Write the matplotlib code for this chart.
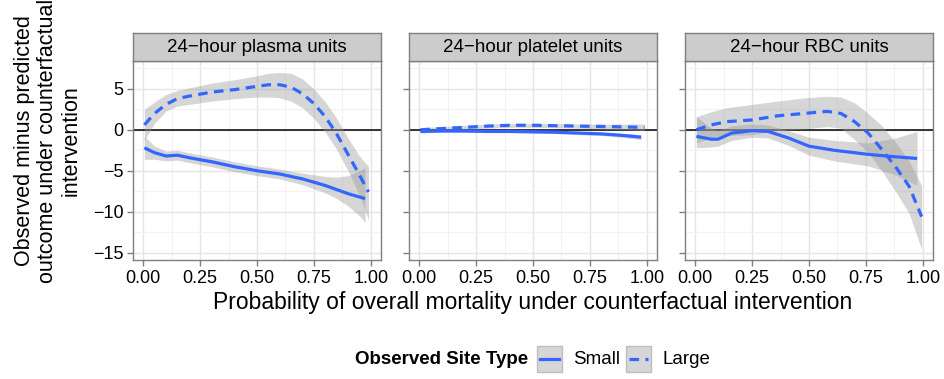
import numpy as np
import matplotlib
matplotlib.use('Agg')
import matplotlib.pyplot as plt
from matplotlib.patches import Rectangle
from matplotlib.lines import Line2D

plt.rcParams['font.family'] = ['Liberation Sans', 'DejaVu Sans']

panel_titles = ['24\u2212hour plasma units', '24\u2212hour platelet units',
                '24\u2212hour RBC units']
site_types = ['Small', 'Large']

# smoothed fits per panel: x, fit, lower and upper band
plasma_large_x = [0.005, 0.05, 0.1, 0.15, 0.2, 0.3, 0.4, 0.5, 0.55, 0.6,
                  0.65, 0.7, 0.75, 0.8, 0.85, 0.9, 0.95, 0.99]
plasma_large_y = [0.6, 2.0, 3.1, 3.8, 4.1, 4.6, 4.9, 5.3, 5.5, 5.5,
                  5.2, 4.4, 3.2, 1.6, -0.5, -3.0, -5.5, -7.6]
plasma_large_lo = [-1.3, 0.8, 2.3, 2.9, 3.1, 3.5, 3.8, 4.0, 4.0, 3.9,
                   3.5, 2.7, 1.4, -0.3, -2.4, -5.0, -8.0, -11.0]
plasma_large_hi = [2.5, 3.4, 4.3, 4.8, 5.1, 5.7, 6.1, 6.6, 6.9, 7.0,
                   6.9, 6.2, 5.0, 3.4, 1.4, -1.0, -3.2, -4.5]

plasma_small_x = [0.005, 0.05, 0.1, 0.15, 0.2, 0.3, 0.4, 0.5, 0.6, 0.7,
                  0.8, 0.85, 0.9, 0.95, 0.975]
plasma_small_y = [-2.2, -2.8, -3.2, -3.1, -3.4, -3.9, -4.5, -5.0, -5.4, -6.0,
                  -6.8, -7.3, -7.8, -8.2, -8.4]
plasma_small_lo = [-3.6, -3.6, -3.8, -3.7, -4.0, -4.5, -5.1, -5.6, -6.0, -6.7,
                   -7.7, -8.4, -9.3, -10.5, -11.3]
plasma_small_hi = [-0.8, -2.0, -2.6, -2.5, -2.8, -3.3, -3.9, -4.4, -4.8, -5.3,
                   -5.7, -5.8, -5.6, -5.0, -4.6]

platelet_large_x = [0.005, 0.1, 0.2, 0.3, 0.4, 0.5, 0.6, 0.7, 0.8, 0.9, 0.99]
platelet_large_y = [0.0, 0.15, 0.3, 0.45, 0.55, 0.55, 0.5, 0.45, 0.4, 0.35, 0.3]
platelet_large_lo = [-0.25, -0.1, 0.05, 0.2, 0.3, 0.3, 0.25, 0.2, 0.1, 0.0, -0.1]
platelet_large_hi = [0.25, 0.4, 0.55, 0.7, 0.8, 0.8, 0.75, 0.7, 0.7, 0.7, 0.7]

platelet_small_x = [0.005, 0.1, 0.2, 0.3, 0.4, 0.5, 0.6, 0.7, 0.8, 0.9, 0.975]
platelet_small_y = [-0.2, -0.15, -0.15, -0.2, -0.2, -0.25, -0.3, -0.4, -0.5,
                    -0.7, -0.9]
platelet_small_lo = [-0.4, -0.3, -0.3, -0.35, -0.35, -0.4, -0.45, -0.6, -0.7,
                     -0.95, -1.2]
platelet_small_hi = [0.0, 0.0, 0.0, -0.05, -0.05, -0.1, -0.15, -0.2, -0.3,
                     -0.45, -0.6]

rbc_large_x = [0.005, 0.07, 0.14, 0.25, 0.36, 0.48, 0.58, 0.64, 0.7, 0.76,
               0.82, 0.88, 0.94, 0.995]
rbc_large_y = [0.0, 0.6, 1.0, 1.2, 1.7, 2.0, 2.25, 2.0, 1.0, -0.4,
               -2.4, -4.5, -6.9, -10.6]
rbc_large_lo = [-1.6, -1.0, -0.7, -0.6, -0.1, 0.1, 0.4, 0.2, -1.2, -2.8,
                -5.0, -7.5, -10.2, -14.6]
rbc_large_hi = [1.6, 2.2, 2.7, 3.1, 3.5, 3.9, 4.1, 4.0, 3.3, 2.0,
                0.5, -1.5, -3.8, -6.8]

rbc_small_x = [0.005, 0.07, 0.1, 0.16, 0.25, 0.32, 0.41, 0.5, 0.61, 0.76,
               0.88, 0.975]
rbc_small_y = [-0.8, -1.15, -1.15, -0.4, -0.1, -0.2, -1.0, -2.0, -2.5, -3.0,
               -3.3, -3.5]
rbc_small_lo = [-2.2, -2.1, -2.0, -1.3, -0.9, -1.0, -1.9, -3.1, -3.8, -4.4,
                -5.5, -6.8]
rbc_small_hi = [1.6, 0.2, -0.1, 0.5, 0.7, 0.6, -0.1, -0.9, -1.3, -1.6,
                -1.0, -0.2]

panels = [
    {'Small': (plasma_small_x, plasma_small_y, plasma_small_lo, plasma_small_hi),
     'Large': (plasma_large_x, plasma_large_y, plasma_large_lo, plasma_large_hi)},
    {'Small': (platelet_small_x, platelet_small_y, platelet_small_lo, platelet_small_hi),
     'Large': (platelet_large_x, platelet_large_y, platelet_large_lo, platelet_large_hi)},
    {'Small': (rbc_small_x, rbc_small_y, rbc_small_lo, rbc_small_hi),
     'Large': (rbc_large_x, rbc_large_y, rbc_large_lo, rbc_large_hi)},
]

x_ticks = [0.0, 0.25, 0.5, 0.75, 1.0]
x_ticklabels = ['0.00', '0.25', '0.50', '0.75', '1.00']
y_ticks = [-15, -10, -5, 0, 5]

LINE_BLUE = '#3366FF'
styles = {'Small': '-', 'Large': (0, (3, 2))}

W, H = 945, 379
fig = plt.figure(figsize=(W / 100, H / 100), dpi=100)

p_left = [133, 409, 685]
p_width = 248
p_top, p_bottom = 61, 260
strip_top = 33

for i, (left, title, data) in enumerate(zip(p_left, panel_titles, panels)):
    ax = fig.add_axes([left / W, 1 - p_bottom / H, p_width / W,
                       (p_bottom - p_top) / H])
    ax.set_xlim(-0.045, 1.045)
    ax.set_ylim(-15.9, 8.4)
    ax.set_xticks(x_ticks)
    ax.set_xticklabels(x_ticklabels)
    ax.set_yticks(y_ticks)
    ax.set_xticks([0.125, 0.375, 0.625, 0.875], minor=True)
    ax.set_yticks([-12.5, -7.5, -2.5, 2.5, 7.5], minor=True)
    ax.grid(which='major', color='#E5E5E5', lw=1.0)
    ax.grid(which='minor', color='#F2F2F2', lw=0.8)
    ax.set_axisbelow(True)
    ax.tick_params(which='minor', length=0)
    ax.tick_params(which='major', length=4, width=1, color='#7F7F7F',
                   labelsize=13, labelcolor='black', pad=3)
    if i > 0:
        ax.tick_params(axis='y', labelleft=False)
    for s in ax.spines.values():
        s.set_color('#7F7F7F')
        s.set_linewidth(1)

    ax.axhline(0, color='black', lw=1.1, zorder=2)
    for site in site_types:
        xs, ys, lo, hi = data[site]
        ax.fill_between(xs, lo, hi, color='#999999', alpha=0.4, lw=0, zorder=3)
    for site in site_types:
        xs, ys, lo, hi = data[site]
        ax.plot(xs, ys, color=LINE_BLUE, lw=2.3, ls=styles[site],
                solid_capstyle='butt', dash_capstyle='butt', zorder=4)

    sax = fig.add_axes([left / W, 1 - p_top / H, p_width / W,
                        (p_top - strip_top) / H])
    sax.set_xticks([])
    sax.set_yticks([])
    sax.set_facecolor('#CCCCCC')
    for s in sax.spines.values():
        s.set_color('#7F7F7F')
        s.set_linewidth(1)
    sax.text(0.5, 0.47, title, ha='center', va='center', fontsize=13.5,
             transform=sax.transAxes)

fig.text(48 / W, 1 - 141 / H,
         'Observed minus predicted\noutcome under counterfactual\nintervention',
         rotation=90, ha='center', va='center', fontsize=15.5, linespacing=1.15)
fig.text(533 / W, 1 - 303 / H,
         'Probability of overall mortality under counterfactual intervention',
         ha='center', va='center', fontsize=16.5)

# legend drawn along the bottom
ly = 1 - 359 / H
fig.text(528 / W, ly, 'Observed Site Type', ha='right', va='center',
         fontsize=13.5, fontweight='bold')
for x0, site in zip([537, 626], site_types):
    fig.add_artist(Rectangle((x0 / W, 1 - 372 / H), 25 / W, 26 / H,
                             transform=fig.transFigure, facecolor='#D6D6D6',
                             edgecolor='#BEBEBE', lw=1))
    fig.add_artist(Line2D([(x0 + 3) / W, (x0 + 22) / W], [ly, ly],
                          transform=fig.transFigure, color=LINE_BLUE, lw=2.3,
                          ls=styles[site], dash_capstyle='butt'))
    fig.text((x0 + 36) / W, ly, site, ha='left', va='center', fontsize=13.5)

fig.savefig('out.png', dpi=100)
